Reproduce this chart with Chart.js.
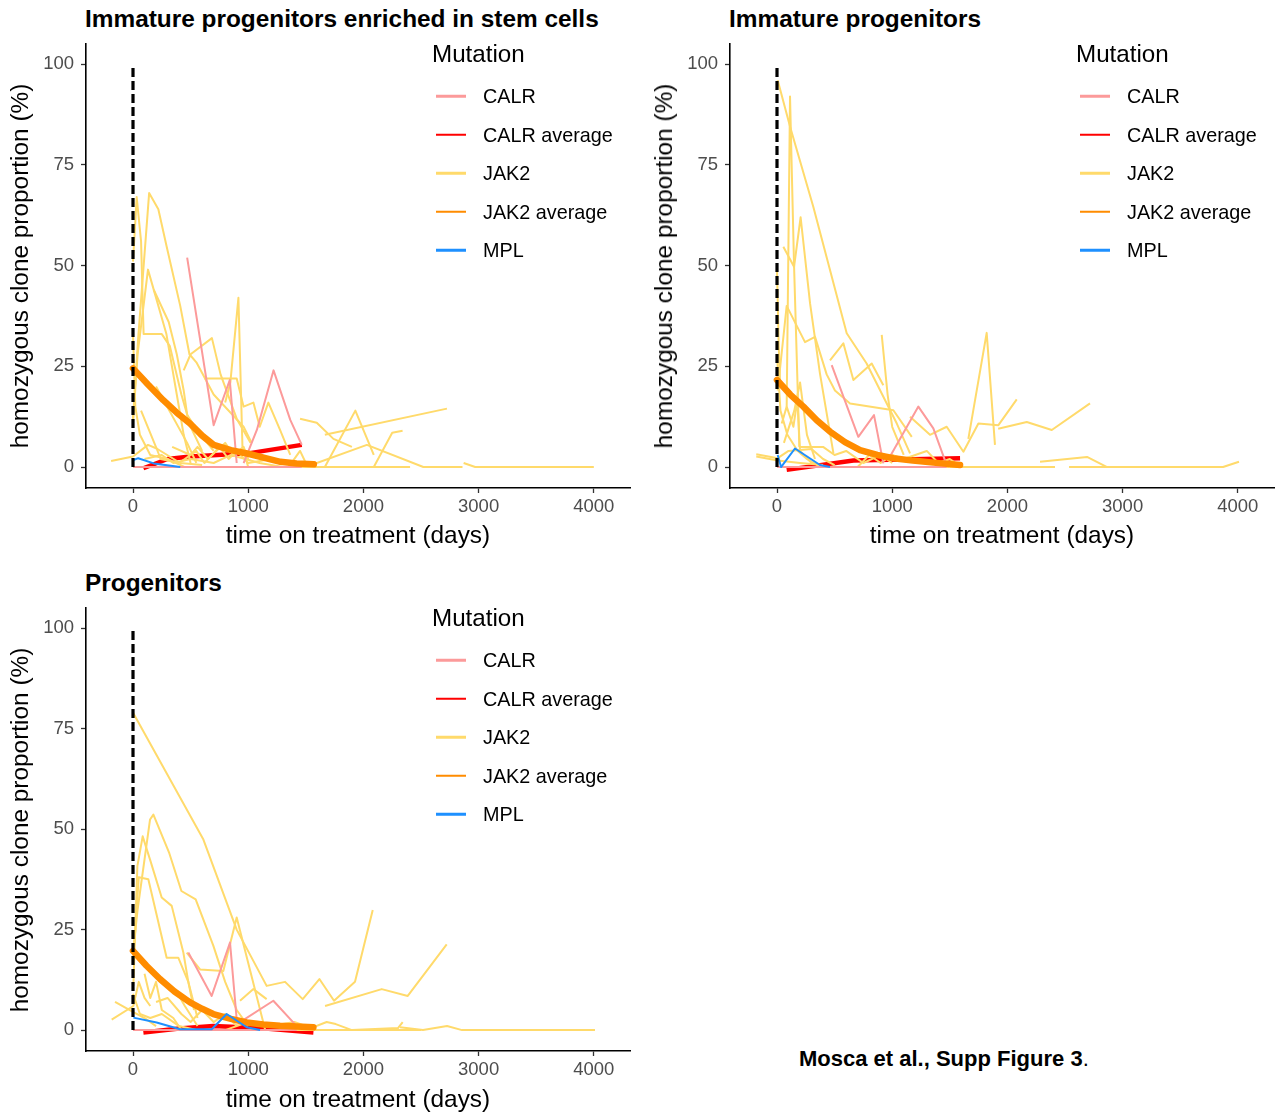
<!DOCTYPE html>
<html>
<head>
<meta charset="utf-8">
<script src="https://cdn.jsdelivr.net/npm/chart.js@4.4.1/dist/chart.umd.min.js"></script>
<style>
  body { margin: 0; background: #fff; font-family: "Liberation Sans", Arial, Helvetica, sans-serif; }
  #fig { position: relative; width: 1279px; height: 1113px; overflow: hidden; }
  #fig canvas { position: absolute; }
  .title { position: absolute; font-weight: bold; font-size: 24.4px; color: #000; white-space: nowrap; transform: translateY(-50%); }
  .xtitle { position: absolute; font-size: 24.4px; color: #000; white-space: nowrap; transform: translate(-50%, -50%); }
  .ytitle { position: absolute; font-size: 24.4px; color: #000; white-space: nowrap; transform: translate(-50%, -50%) rotate(-90deg); }
  .legtitle { position: absolute; font-size: 24.2px; color: #000; white-space: nowrap; transform: translateY(-50%); }
  .legitem { position: absolute; font-size: 19.8px; color: #000; white-space: nowrap; transform: translateY(-50%); }
  .swatch { position: absolute; width: 30px; height: 2.5px; transform: translateY(-50%); }
  #footer { position: absolute; left: 799px; top: 1059px; font-size: 22px; transform: translateY(-50%); white-space: nowrap; }
</style>
</head>
<body>
<div id="fig">
  <canvas id="c1" width="640" height="494" style="left:0px;top:34px"></canvas>
  <canvas id="c2" width="640" height="494" style="left:644px;top:34px"></canvas>
  <canvas id="c3" width="640" height="493" style="left:0px;top:598px"></canvas>
  <div id="footer"><b>Mosca et al., Supp Figure 3</b>.</div>
</div>
<script>
// axes
const xTicks = [0, 1000, 2000, 3000, 4000];
const yTicks = [0, 25, 50, 75, 100];
const xRange = [-408, 4314];
const yRange = [-5.2, 105];
const mutations = ['CALR', 'CALR average', 'JAK2', 'JAK2 average', 'MPL'];

// panel 1: immature progenitors enriched in stem cells  ([day, %])
const p1Jak2 = [
  [[0,51],[32,67],[70,56],[92,33],[250,33],[320,30],[420,18],[500,10],[600,4]],
  [[0,12],[45,32],[140,68],[220,64],[290,55],[410,40],[490,28],[550,26],[700,18],[960,10],[1030,6]],
  [[0,11],[40,28],[130,49],[290,33],[380,18],[440,8],[500,1]],
  [[180,44],[310,36],[380,28],[440,19],[470,13],[560,9],[700,4]],
  [[440,24],[500,28],[685,32],[760,23],[900,12],[1020,6]],
  [[800,16],[845,21],[915,42],[950,5],[1000,0]],
  [[620,22],[900,22],[960,15],[1045,16],[1100,10],[1175,16],[1280,9],[1365,3]],
  [[1450,12],[1595,11],[1740,7],[1900,5]],
  [[1665,8],[2725,14.5]],
  [[1665,0],[1930,14],[2090,3]],
  [[1500,0],[2030,5.5],[2520,0],[2860,0]],
  [[2870,1],[2970,0],[4000,0]],
  [[2090,0],[2250,8.5],[2340,9]],
  [[0,0],[2405,0]],
  [[-190,1.5],[0,2.6],[130,5.5],[205,4.6],[240,2],[400,1]],
  [[70,14],[205,4.6],[410,1],[600,0.5]],
  [[200,20],[470,6],[550,1]],
  [[340,5],[500,3],[560,5],[650,2],[800,6],[870,3],[960,5],[1000,2]],
  [[400,1],[550,4],[620,1],[750,5],[830,2],[900,4],[1000,1],[1200,2],[1500,0]],
  [[1350,0],[1450,4],[1500,1]],
  [[0,33],[20,15],[60,8],[150,3],[300,2],[450,0]],
  [[100,2],[250,3],[350,1],[500,2],[700,1],[850,3],[1100,1],[1300,0]]
];
const p1Calr = [
  [[470,52],[700,10.4],[840,21.6],[900,1]],
  [[960,1],[1075,9.2],[1220,24],[1365,11.7],[1465,5.5]],
  [[0,0],[1465,0]]
];
const p1CalrAvg = [[90,-0.3],[300,2],[500,2.6],[1000,3.4],[1465,5.5]];
const p1Jak2Avg = [[0,24.5],[130,20.5],[263,16.6],[380,13.5],[495,10.8],[600,7.8],[700,5.5],[850,4.2],[1000,3.3],[1150,2.2],[1280,1.3],[1420,0.9],[1570,0.7]];
const p1Mpl = [[[0,1.7],[45,2.2],[180,0.9],[410,0]]];

// panel 2: immature progenitors
const p2Jak2 = [
  [[6,96],[113,84.5],[315,64.6],[605,33.2],[778,25.7],[1040,10.8],[1155,3.4]],
  [[84,15],[113,92],[148,50],[194,5]],
  [[55,54.7],[148,49.7],[205,62],[287,40.6],[373,23.2],[490,3.4]],
  [[6,19],[84,40],[243,31],[330,32.3],[431,23],[503,19],[634,15.8],[1010,14.1],[1170,7.5]],
  [[0,49],[15,30],[26,21.6]],
  [[460,26.5],[576,30.7],[663,21.6],[822,25.7],[923,20.3]],
  [[909,32.8],[960,18],[1000,10],[1100,3]],
  [[1155,12.5],[1328,8],[1473,10],[1618,3.8],[1748,10.8],[1922,10.4],[2081,16.8]],
  [[1661,7],[1820,33.3],[1892,5.5]],
  [[1920,9.5],[2168,11.2],[2385,9.2],[2717,15.8]],
  [[2283,1.3],[2691,2.5],[2865,0],[3872,0],[4010,1.3]],
  [[1500,0],[2413,0]],
  [[2535,0],[2865,0]],
  [[-180,2.6],[6,1.6],[200,1],[400,0.5]],
  [[-180,3.2],[6,2.2],[100,4],[300,4.5],[400,2],[500,0.5]],
  [[41,10.8],[84,15],[142,10],[177,16.6],[200,4],[300,1]],
  [[200,5],[400,5],[500,3],[600,4],[750,1],[900,3],[1000,1]],
  [[700,0],[800,3],[900,1],[1000,3],[1100,2],[1300,4],[1400,1],[1500,2],[1600,0]],
  [[0,0],[1500,0]],
  [[0,28],[30,14],[90,8],[180,4],[260,2],[380,0]],
  [[60,6],[150,14],[200,21],[260,8],[330,2]]
];
const p2Calr = [
  [[475,25.3],[706,7.5],[842,12.9],[923,0.9]],
  [[981,2.6],[1227,15],[1357,9.6],[1473,0.5]],
  [[0,0],[1473,0]]
];
const p2CalrAvg = [[84,-0.7],[663,1.6],[1589,2.2]];
const p2Jak2Avg = [[0,21.6],[115,18],[229,15],[345,11.6],[460,8.8],[590,6.2],[721,4.2],[870,3],[1010,2.2],[1180,1.6],[1357,1.1],[1589,0.5]];
const p2Mpl = [[[6,3],[35,0],[156,4.6],[373,0.5],[460,0]]];

// panel 3: progenitors
const p3Jak2 = [
  [[3,78.8],[611,47.4],[900,25],[1160,11],[1320,12],[1473,7.7],[1618,12.7],[1745,7.3],[1927,12],[2081,29.9]],
  [[1667,6],[2159,10.2],[2385,8.5],[2723,21.3]],
  [[3,20],[40,30],[148,52.4],[177,53.6],[315,44],[420,34.6],[544,32.5],[697,21],[800,12],[900,5],[1000,1]],
  [[3,11],[38,40.8],[84,48.2],[148,42.4],[249,33],[336,30.9],[437,19.3],[480,12],[560,3]],
  [[3,18],[50,38],[133,37.5],[292,18],[393,18],[480,12],[530,5]],
  [[466,19.3],[582,15.1],[784,14.7],[900,28],[1146,0.2]],
  [[929,7.3],[1045,10.2],[1160,7.7]],
  [[-185,2.6],[3,6],[50,12],[100,8],[150,6]],
  [[-156,7],[3,4.5],[100,3],[200,1]],
  [[1500,0],[1681,2],[1760,1.5],[1900,0],[2300,0.5],[2341,2]],
  [[2318,0.7],[2517,0],[2726,1],[2856,0],[4010,0]],
  [[0,0],[2500,0]],
  [[100,14],[150,8],[200,12],[250,5],[350,3],[420,0]],
  [[200,7],[300,8],[420,4],[500,2],[600,5],[700,2],[800,4],[900,1]],
  [[370,10],[450,6],[560,1]],
  [[800,0],[1000,2],[1200,1],[1400,2],[1600,0]],
  [[0,9],[60,4],[150,3],[250,4],[400,1],[550,0]]
];
const p3Calr = [
  [[480,19.3],[683,8.5],[842,21.8],[900,2.7]],
  [[930,2],[1218,7.3],[1421,1]],
  [[0,0],[1421,0]]
];
const p3CalrAvg = [[90,-0.6],[400,0.4],[697,1],[1100,0.5],[1566,-0.6]];
const p3Jak2Avg = [[0,19.7],[117,16],[234,12.7],[360,9.6],[495,6.9],[600,5.3],[697,4],[850,2.8],[987,1.9],[1130,1.4],[1276,1.1],[1420,0.9],[1566,0.7]];
const p3Mpl = [[[3,3.1],[205,1.9],[408,0.2],[683,0.2],[813,4],[987,0.7],[1103,0]]];

const baseline = [[0,0],[0,100]];

const COL = { 'CALR': '#FC9A9A', 'CALR average': '#FF0000', 'JAK2': '#FFDA6B', 'JAK2 average': '#FF8C00', 'MPL': '#1E90FF' };
const FONT = '"Liberation Sans", Arial, Helvetica, sans-serif';

function pts(arr) { return arr.map(p => ({ x: p[0], y: p[1] })); }

function lineDs(arr, color, width, extra) {
  return Object.assign({
    data: pts(arr), borderColor: color, borderWidth: width,
    pointRadius: 0, fill: false, tension: 0,
    borderCapStyle: 'butt', borderJoinStyle: 'round'
  }, extra || {});
}

function makePanel(id, d) {
  const ds = [];
  // first dataset is drawn on top
  ds.push(lineDs(baseline, '#000', 3.2, { borderDash: [9, 4] }));
  d.mpl.forEach(l => ds.push(lineDs(l, COL['MPL'], 2)));
  ds.push(lineDs(d.jak2Avg, COL['JAK2 average'], 6.5, { borderCapStyle: 'round' }));
  d.calr.forEach(l => ds.push(lineDs(l, COL['CALR'], 2)));
  d.jak2.forEach(l => ds.push(lineDs(l, COL['JAK2'], 2)));
  ds.push(lineDs(d.calrAvg, COL['CALR average'], 4.5));

  new Chart(document.getElementById(id), {
    type: 'line',
    data: { datasets: ds },
    options: {
      responsive: false, animation: false, devicePixelRatio: 1,
      layout: { padding: { top: 10, right: 10, left: 0, bottom: 0 } },
      plugins: { legend: { display: false }, tooltip: { enabled: false } },
      scales: {
        x: {
          type: 'linear', min: xRange[0], max: xRange[1],
          afterBuildTicks: s => { s.ticks = xTicks.map(v => ({ value: v })); },
          afterFit: s => { s.height = 40; s.paddingLeft = 0; s.paddingRight = 0; },
          grid: { drawOnChartArea: false, tickLength: 5, tickColor: '#333', tickWidth: 1.3 },
          border: { color: '#000', width: 1.6 },
          ticks: { color: '#4d4d4d', font: { size: 18.5, family: FONT }, padding: 3, maxRotation: 0, autoSkip: false,
                   callback: v => String(v) }
        },
        y: {
          type: 'linear', min: yRange[0], max: yRange[1],
          afterBuildTicks: s => { s.ticks = yTicks.map(v => ({ value: v })); },
          afterFit: s => { s.width = 86; s.paddingTop = 0; s.paddingBottom = 0; },
          grid: { drawOnChartArea: false, tickLength: 5, tickColor: '#333', tickWidth: 1.3 },
          border: { color: '#000', width: 1.6 },
          ticks: { color: '#4d4d4d', font: { size: 18.5, family: FONT }, padding: 7, autoSkip: false,
                   callback: v => String(v) }
        }
      }
    }
  });
}

function addText(cls, text, x, y) {
  const el = document.createElement('div');
  el.className = cls;
  el.textContent = text;
  el.style.left = x + 'px';
  el.style.top = y + 'px';
  document.getElementById('fig').appendChild(el);
}

function addLegend(x, y) {
  addText('legtitle', 'Mutation', x, y);
  mutations.forEach((m, i) => {
    const yy = y + 42 + i * 38.6;
    const sw = document.createElement('div');
    sw.className = 'swatch';
    sw.style.left = (x + 4) + 'px';
    sw.style.top = yy + 'px';
    sw.style.background = COL[m];
    document.getElementById('fig').appendChild(sw);
    addText('legitem', m, x + 51, yy);
  });
}

function decorate(p) {
  addText('title', p.title, p.left - 1, p.top - 25);
  addText('xtitle', 'time on treatment (days)', p.left + 272, p.top + 491);
  addText('ytitle', 'homozygous clone proportion (%)', p.left - 66, p.top + 222);
  addLegend(p.left + 346, p.top + 10);
}

makePanel('c1', { jak2: p1Jak2, calr: p1Calr, calrAvg: p1CalrAvg, jak2Avg: p1Jak2Avg, mpl: p1Mpl });
makePanel('c2', { jak2: p2Jak2, calr: p2Calr, calrAvg: p2CalrAvg, jak2Avg: p2Jak2Avg, mpl: p2Mpl });
makePanel('c3', { jak2: p3Jak2, calr: p3Calr, calrAvg: p3CalrAvg, jak2Avg: p3Jak2Avg, mpl: p3Mpl });

decorate({ title: 'Immature progenitors enriched in stem cells', left: 86, top: 44 });
decorate({ title: 'Immature progenitors', left: 730, top: 44 });
decorate({ title: 'Progenitors', left: 86, top: 608 });
</script>
</body>
</html>
